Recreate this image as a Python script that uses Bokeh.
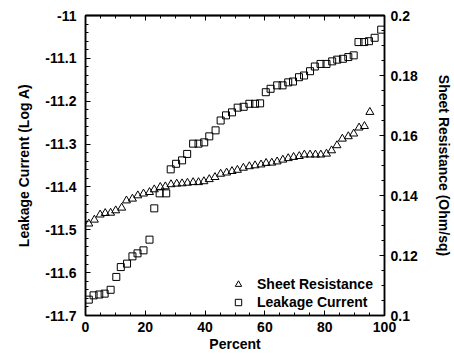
from bokeh.plotting import figure
from bokeh.models import Range1d, LinearAxis, FixedTicker, Legend, LegendItem
from bokeh.embed import file_html
from bokeh.resources import INLINE
import numpy as np

# ---- data ----
leak_x = [1.1, 2.7, 4.6, 6.4, 8.4, 10.3, 11.8, 13.9, 15.7, 17.4, 19.4, 21.4, 23.0, 24.8,
          27.0, 28.5, 30.3, 32.3, 34.0, 36.0, 37.8, 39.7, 41.4, 43.5, 45.2, 47.0, 49.0,
          50.9, 52.9, 54.8, 56.7, 58.4, 60.3, 61.9, 64.1, 65.9, 67.8, 69.4, 71.4, 73.1,
          75.1, 76.7, 78.6, 80.6, 82.5, 84.2, 86.1, 87.9, 89.7, 91.3, 93.2, 94.8, 96.7, 98.9]
leak_y = [-11.663, -11.653, -11.651, -11.649, -11.640, -11.610, -11.587, -11.579, -11.562,
          -11.555, -11.548, -11.523, -11.450, -11.415, -11.415, -11.359, -11.346, -11.338,
          -11.323, -11.299, -11.299, -11.296, -11.282, -11.268, -11.245, -11.233, -11.226,
          -11.215, -11.213, -11.206, -11.206, -11.205, -11.179, -11.171, -11.163, -11.163,
          -11.156, -11.154, -11.144, -11.140, -11.130, -11.119, -11.113, -11.113, -11.107,
          -11.103, -11.101, -11.097, -11.093, -11.062, -11.062, -11.060, -11.052, -11.033]

sheet_x = [1.1, 2.96, 4.9, 6.6, 8.4, 10.1, 12.1, 13.7, 15.7, 17.5, 19.4, 21.4, 23.0, 25.0,
           26.7, 28.6, 30.5, 32.3, 34.1, 36.0, 37.8, 39.6, 41.4, 43.3, 45.2, 47.2, 49.0,
           50.8, 52.8, 54.8, 56.7, 58.7, 60.4, 62.3, 64.1, 66.0, 67.8, 69.6, 71.5, 73.2,
           75.1, 76.9, 78.7, 80.6, 82.3, 84.1, 85.9, 87.9, 89.7, 91.5, 93.3, 95.1]
sheet_y = [0.1306, 0.1319, 0.1336, 0.1341, 0.1342, 0.1350, 0.1359, 0.1383, 0.1389, 0.1400,
           0.1406, 0.1411, 0.1420, 0.1428, 0.1430, 0.1437, 0.1439, 0.1440, 0.1442, 0.1444,
           0.1444, 0.1447, 0.1454, 0.1461, 0.1472, 0.1476, 0.1481, 0.1485, 0.1492, 0.1497,
           0.1500, 0.1503, 0.1508, 0.1509, 0.1513, 0.1519, 0.1524, 0.1528, 0.1531, 0.1536,
           0.1536, 0.1536, 0.1536, 0.1539, 0.1550, 0.1567, 0.1589, 0.1597, 0.1606, 0.1626,
           0.1631, 0.1678]

x_ticks = [0, 20, 40, 60, 80, 100]
x_tick_labels = ["0", "20", "40", "60", "80", "100"]
left_ticks = [-11.7, -11.6, -11.5, -11.4, -11.3, -11.2, -11.1, -11.0]
left_tick_labels = ["-11.7", "-11.6", "-11.5", "-11.4", "-11.3", "-11.2", "-11.1", "-11"]
right_ticks = [0.1, 0.12, 0.14, 0.16, 0.18, 0.2]
right_tick_labels = ["0.1", "0.12", "0.14", "0.16", "0.18", "0.2"]

FONT = "Liberation Sans"
FS = "14px"

p = figure(width=454, height=354, output_backend="svg", toolbar_location=None,
           x_range=Range1d(0, 100), y_range=Range1d(-11.7, -11.0),
           min_border_left=85, min_border_right=65, min_border_top=15, min_border_bottom=39)
p.extra_y_ranges = {"sheet": Range1d(0.1, 0.2)}
p.xgrid.visible = False
p.ygrid.visible = False
p.outline_line_color = "black"
p.outline_line_width = 1.5
p.background_fill_color = "white"
p.border_fill_color = "white"


def style_axis(ax, ticks, minor, labels=None):
    ax.ticker = FixedTicker(ticks=list(ticks), minor_ticks=list(minor))
    ax.major_tick_in = 5
    ax.major_tick_out = 0
    ax.minor_tick_in = 3
    ax.minor_tick_out = 0
    ax.axis_line_color = "black"
    ax.axis_line_width = 1.5
    ax.major_tick_line_color = "black"
    ax.minor_tick_line_color = "black"
    ax.major_label_text_font = FONT
    ax.major_label_text_font_style = "bold"
    ax.major_label_text_font_size = FS
    ax.major_label_text_color = "black"
    ax.axis_label_text_font = FONT
    ax.axis_label_text_font_style = "bold"
    ax.axis_label_text_font_size = FS
    ax.axis_label_text_color = "black"
    if labels is not None:
        ax.major_label_overrides = {t: l for t, l in zip(ticks, labels)}


x_minor = np.arange(0, 100.1, 5)
left_minor = np.round(np.arange(-11.7, -10.99, 0.02), 3)
right_minor = np.round(np.arange(0.1, 0.2001, 0.005), 4)

# bottom axis
bx = p.xaxis[0]
style_axis(bx, x_ticks, x_minor, x_tick_labels)
bx.axis_label = "Percent"
bx.major_label_standoff = 6
bx.axis_label_standoff = 1

# left axis
ly = p.yaxis[0]
style_axis(ly, left_ticks, left_minor, left_tick_labels)
ly.axis_label = "Leakage Current (Log A)"
ly.major_label_standoff = 9
ly.axis_label_standoff = 10

# right axis
ry = LinearAxis(y_range_name="sheet")
style_axis(ry, right_ticks, right_minor, right_tick_labels)
ry.axis_label = "Sheet Resistance (Ohm/sq)"
ry.major_label_standoff = 6
ry.axis_label_standoff = 15
p.add_layout(ry, "right")

# top axis: tick marks only (minor-tick mechanism, so no label texts are drawn)
tx_minor = LinearAxis()
style_axis(tx_minor, [], x_minor)
p.add_layout(tx_minor, "above")
tx_major = LinearAxis()
style_axis(tx_major, [], x_ticks)
tx_major.minor_tick_in = 5
p.add_layout(tx_major, "above")

tri = p.scatter(sheet_x, sheet_y, marker="triangle", size=8, y_range_name="sheet",
                line_color="black", line_width=1, fill_alpha=0)
sq = p.scatter(leak_x, leak_y, marker="square", size=7,
               line_color="black", line_width=1, fill_alpha=0)

legend = Legend(items=[LegendItem(label="Sheet Resistance", renderers=[tri]),
                       LegendItem(label="Leakage Current", renderers=[sq])],
                location=(145, 5))
legend.border_line_color = None
legend.background_fill_alpha = 0
legend.padding = 0
legend.margin = 0
legend.spacing = 2
legend.glyph_width = 16
legend.glyph_height = 16
legend.label_height = 16
legend.label_standoff = 11
legend.label_text_font = FONT
legend.label_text_font_style = "bold"
legend.label_text_font_size = FS
legend.label_text_color = "black"
p.add_layout(legend, "center")

open("out.html", "w").write(file_html(p, INLINE))
